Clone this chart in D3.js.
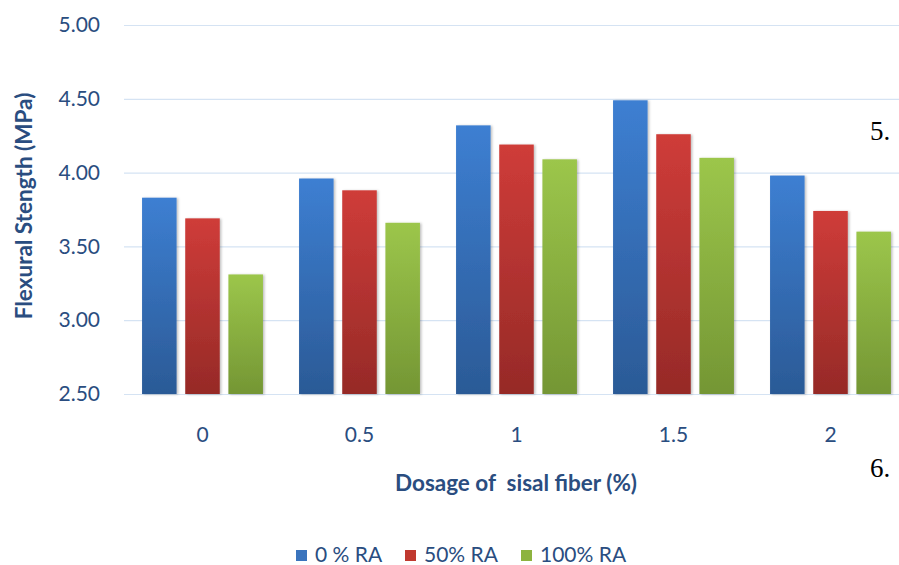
<!DOCTYPE html>
<html>
<head>
<meta charset="utf-8">
<script src="https://cdn.jsdelivr.net/npm/d3@7"></script>
<style>
	body { margin: 0; background: #fff; }
	svg { display: block; font-family: Lato, sans-serif; }
</style>
</head>
<body>
<div id="chart"></div>
<script>
// data
const dosages = ['0', '0.5', '1', '1.5', '2'];
const seriesNames = ['0 % RA', '50% RA', '100% RA'];
const ra0 = [3.83, 3.96, 4.32, 4.49, 3.98];
const ra50 = [3.69, 3.88, 4.19, 4.26, 3.74];
const ra100 = [3.31, 3.66, 4.09, 4.10, 3.60];
const yTicks = [2.5, 3.0, 3.5, 4.0, 4.5, 5.0];

const seriesValues = [ra0, ra50, ra100];
const colors = [
	{ top: '#3d7fd2', bottom: '#2b5a96', legend: '#3a74bd' },
	{ top: '#cf3c39', bottom: '#962a27', legend: '#c0392f' },
	{ top: '#9cc64b', bottom: '#749634', legend: '#8db33f' }
];

const width = 899;
const height = 565;
const marginLeft = 124;
const marginTop = 25;
const plotBottom = 394;
const step = 157;
const navy = '#2a4d80';
const labelSize = '21px';

const $svg = d3.select('#chart').append('svg')
	.attr('width', width)
	.attr('height', height);

const $defs = $svg.append('defs');
colors.forEach((c, i) => {
	const g = $defs.append('linearGradient')
		.attr('id', `grad${i}`)
		.attr('x1', 0).attr('y1', 0).attr('x2', 0).attr('y2', 1);
	g.append('stop').attr('offset', '0%').attr('stop-color', c.top);
	g.append('stop').attr('offset', '100%').attr('stop-color', c.bottom);
});
const f = $defs.append('filter').attr('id', 'shadow')
	.attr('x', '-20%').attr('y', '-5%').attr('width', '150%').attr('height', '115%');
f.append('feDropShadow')
	.attr('dx', 1.5).attr('dy', 0.5).attr('stdDeviation', 1.2)
	.attr('flood-color', '#000').attr('flood-opacity', 0.25);

// scales
const x = d3.scaleBand()
	.domain(dosages)
	.range([marginLeft, marginLeft + step * dosages.length])
	.paddingInner(0.23)
	.paddingOuter(0.115);

const xInner = d3.scaleBand()
	.domain(seriesNames)
	.range([0, x.bandwidth()])
	.paddingInner(0.2);

const y = d3.scaleLinear()
	.domain([2.5, 5.0])
	.range([plotBottom, marginTop]);

// gridlines
$svg.append('g').attr('class', 'grid')
	.selectAll('line')
	.data(yTicks)
	.join('line')
	.attr('x1', marginLeft)
	.attr('x2', width)
	.attr('y1', d => y(d) + 0.5)
	.attr('y2', d => y(d) + 0.5)
	.attr('stroke', '#d5e3f3')
	.attr('stroke-width', 1.2);

// y axis labels
const yAxis = d3.axisLeft(y).tickValues(yTicks).tickFormat(d3.format('.2f')).tickSize(0).tickPadding(24);
const $ya = $svg.append('g').attr('transform', `translate(${marginLeft},0)`).call(yAxis);
$ya.select('.domain').remove();
$ya.selectAll('text')
	.attr('fill', navy)
	.style('font-size', labelSize)
	.style('font-family', 'Lato, sans-serif');

// bars
const $groups = $svg.append('g').attr('class', 'bars')
	.selectAll('g')
	.data(seriesNames)
	.join('g')
	.attr('fill', (d, i) => `url(#grad${i})`);

$groups.selectAll('rect')
	.data((s, i) => seriesValues[i].map((v, j) => ({ s, v, cat: dosages[j] })))
	.join('rect')
	.attr('x', d => x(d.cat) + xInner(d.s))
	.attr('width', xInner.bandwidth())
	.attr('y', d => y(d.v))
	.attr('height', d => plotBottom - y(d.v))
	.attr('filter', 'url(#shadow)');

// x axis labels
const xAxis = d3.axisBottom(x).tickSize(0).tickPadding(33);
const $xa = $svg.append('g').attr('transform', `translate(0,${plotBottom})`).call(xAxis);
$xa.select('.domain').remove();
$xa.selectAll('text')
	.attr('fill', navy)
	.style('font-size', labelSize)
	.style('font-family', 'Lato, sans-serif');

// axis titles
$svg.append('text')
	.attr('x', 516)
	.attr('y', 491)
	.attr('text-anchor', 'middle')
	.attr('fill', navy)
	.style('font-size', '22.5px')
	.style('font-weight', 'bold')
	.style('white-space', 'pre')
	.text('Dosage of  sisal fiber (%)');

$svg.append('text')
	.attr('transform', 'translate(32,206) rotate(-90)')
	.attr('text-anchor', 'middle')
	.attr('fill', navy)
	.style('font-size', '22.5px')
	.style('font-weight', 'bold')
	.text('Flexural Stength (MPa)');

// legend
const legendX = [296, 405, 521];
const $legend = $svg.append('g').attr('class', 'legend')
	.selectAll('g')
	.data(seriesNames)
	.join('g')
	.attr('transform', (d, i) => `translate(${legendX[i]},550)`);
$legend.append('rect')
	.attr('x', 0).attr('y', 0)
	.attr('width', 11).attr('height', 11)
	.attr('fill', (d, i) => colors[i].legend);
$legend.append('text')
	.attr('x', 19)
	.attr('y', 12)
	.attr('fill', navy)
	.style('font-size', labelSize)
	.style('white-space', 'pre')
	.text(d => d);

// stray page numbering from the source document
$svg.append('text')
	.attr('x', 870).attr('y', 140)
	.style('font-family', "'Liberation Serif', serif")
	.style('font-size', '27px')
	.attr('fill', '#000')
	.text('5.');
$svg.append('text')
	.attr('x', 870).attr('y', 477)
	.style('font-family', "'Liberation Serif', serif")
	.style('font-size', '27px')
	.attr('fill', '#000')
	.text('6.');
</script>
</body>
</html>
